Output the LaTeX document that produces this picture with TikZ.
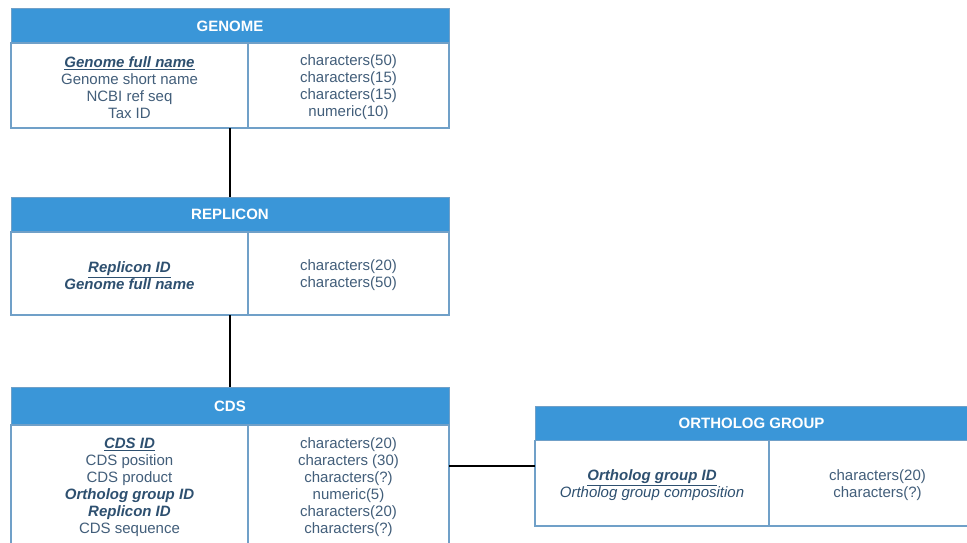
\documentclass[tikz,border=0pt]{standalone}
\usepackage{fontspec}
\setmainfont{Liberation Sans}
\definecolor{hdrblue}{RGB}{58,150,216}
\definecolor{bdblue}{RGB}{112,160,200}
\definecolor{txtc}{RGB}{66,94,122}
\definecolor{keyc}{RGB}{46,80,112}
\newcommand{\pk}[1]{{\color{keyc}\bfseries\itshape\underline{#1}}}
\newcommand{\fk}[1]{{\color{keyc}\bfseries\itshape #1}}
\tikzset{
  tblbox/.style={inner sep=0pt, outer sep=0pt, draw=none},
  hdrbox/.style={fill=hdrblue, draw=bdblue, line width=1pt, inner sep=0pt, outer sep=0pt,
    text=white, font=\fontsize{15}{17}\selectfont\bfseries},
  cellbox/.style={draw=bdblue, line width=1.2pt, fill=white, inner sep=0pt, outer sep=0pt},
  celltxt/.style={inner sep=0pt, yshift=-2pt, align=center, text=txtc,
    font=\fontsize{15}{17}\selectfont},
  link/.style={draw=black, line width=1.1pt}
}
\begin{document}
\begin{tikzpicture}[x=1pt,y=-1pt]
\clip (0,0) rectangle (967,543);
\fill[white] (0,0) rectangle (967,543);

% GENOME
\node[tblbox, minimum width=438pt, minimum height=119pt] (genome) at (230,68.5) {};
\node[hdrbox, minimum width=438pt, minimum height=34pt, anchor=north] (genomeH) at (genome.north) {GENOME};
\node[cellbox, minimum width=237pt, minimum height=85pt, anchor=north west] (genomeL) at (genomeH.south west) {};
\node[cellbox, minimum width=201pt, minimum height=85pt, anchor=north east] (genomeR) at (genomeH.south east) {};
\node[celltxt] (genomeLt) at (genomeL.center) {\pk{Genome full name}\\Genome short name\\NCBI ref seq\\Tax ID};
\node[celltxt] (genomeRt) at (genomeR.center) {characters(50)\\characters(15)\\characters(15)\\numeric(10)};

% REPLICON
\node[tblbox, minimum width=438pt, minimum height=118pt] (replicon) at (230,256) {};
\node[hdrbox, minimum width=438pt, minimum height=35pt, anchor=north] (repliconH) at (replicon.north) {REPLICON};
\node[cellbox, minimum width=237pt, minimum height=83pt, anchor=north west] (repliconL) at (repliconH.south west) {};
\node[cellbox, minimum width=201pt, minimum height=83pt, anchor=north east] (repliconR) at (repliconH.south east) {};
\node[celltxt] (repliconLt) at (repliconL.center) {\pk{Replicon ID}\\\fk{Genome full name}};
\node[celltxt] (repliconRt) at (repliconR.center) {characters(20)\\characters(50)};

% CDS
\node[tblbox, minimum width=438pt, minimum height=158pt] (cds) at (230,466) {};
\node[hdrbox, minimum width=438pt, minimum height=38pt, anchor=north] (cdsH) at (cds.north) {CDS};
\node[cellbox, minimum width=237pt, minimum height=120pt, anchor=north west] (cdsL) at (cdsH.south west) {};
\node[cellbox, minimum width=201pt, minimum height=120pt, anchor=north east] (cdsR) at (cdsH.south east) {};
\node[celltxt] (cdsLt) at (cdsL.center)
  {\pk{CDS ID}\\CDS position\\CDS product\\\fk{Ortholog group ID}\\\fk{Replicon ID}\\CDS sequence};
\node[celltxt] (cdsRt) at (cdsR.center)
  {characters(20)\\characters (30)\\characters(?)\\numeric(5)\\characters(20)\\characters(?)};

% ORTHOLOG GROUP
\node[tblbox, minimum width=433pt, minimum height=120pt] (ortho) at (751.5,466) {};
\node[hdrbox, minimum width=433pt, minimum height=34.5pt, anchor=north] (orthoH) at (ortho.north) {ORTHOLOG GROUP};
\node[cellbox, minimum width=234pt, minimum height=85.5pt, anchor=north west] (orthoL) at (orthoH.south west) {};
\node[cellbox, minimum width=199pt, minimum height=85.5pt, anchor=north east] (orthoR) at (orthoH.south east) {};
\node[celltxt] (orthoLt) at (orthoL.center) {\pk{Ortholog group ID}\\{\color{keyc}\itshape Ortholog group composition}};
\node[celltxt, xshift=9pt] (orthoRt) at (orthoR.center) {characters(20)\\characters(?)};

% connectors
\draw[link] (genome.south) -- (replicon.north);
\draw[link] (replicon.south) -- (cds.north);
\draw[link] (cds.east) -- (ortho.west);
\end{tikzpicture}
\end{document}
